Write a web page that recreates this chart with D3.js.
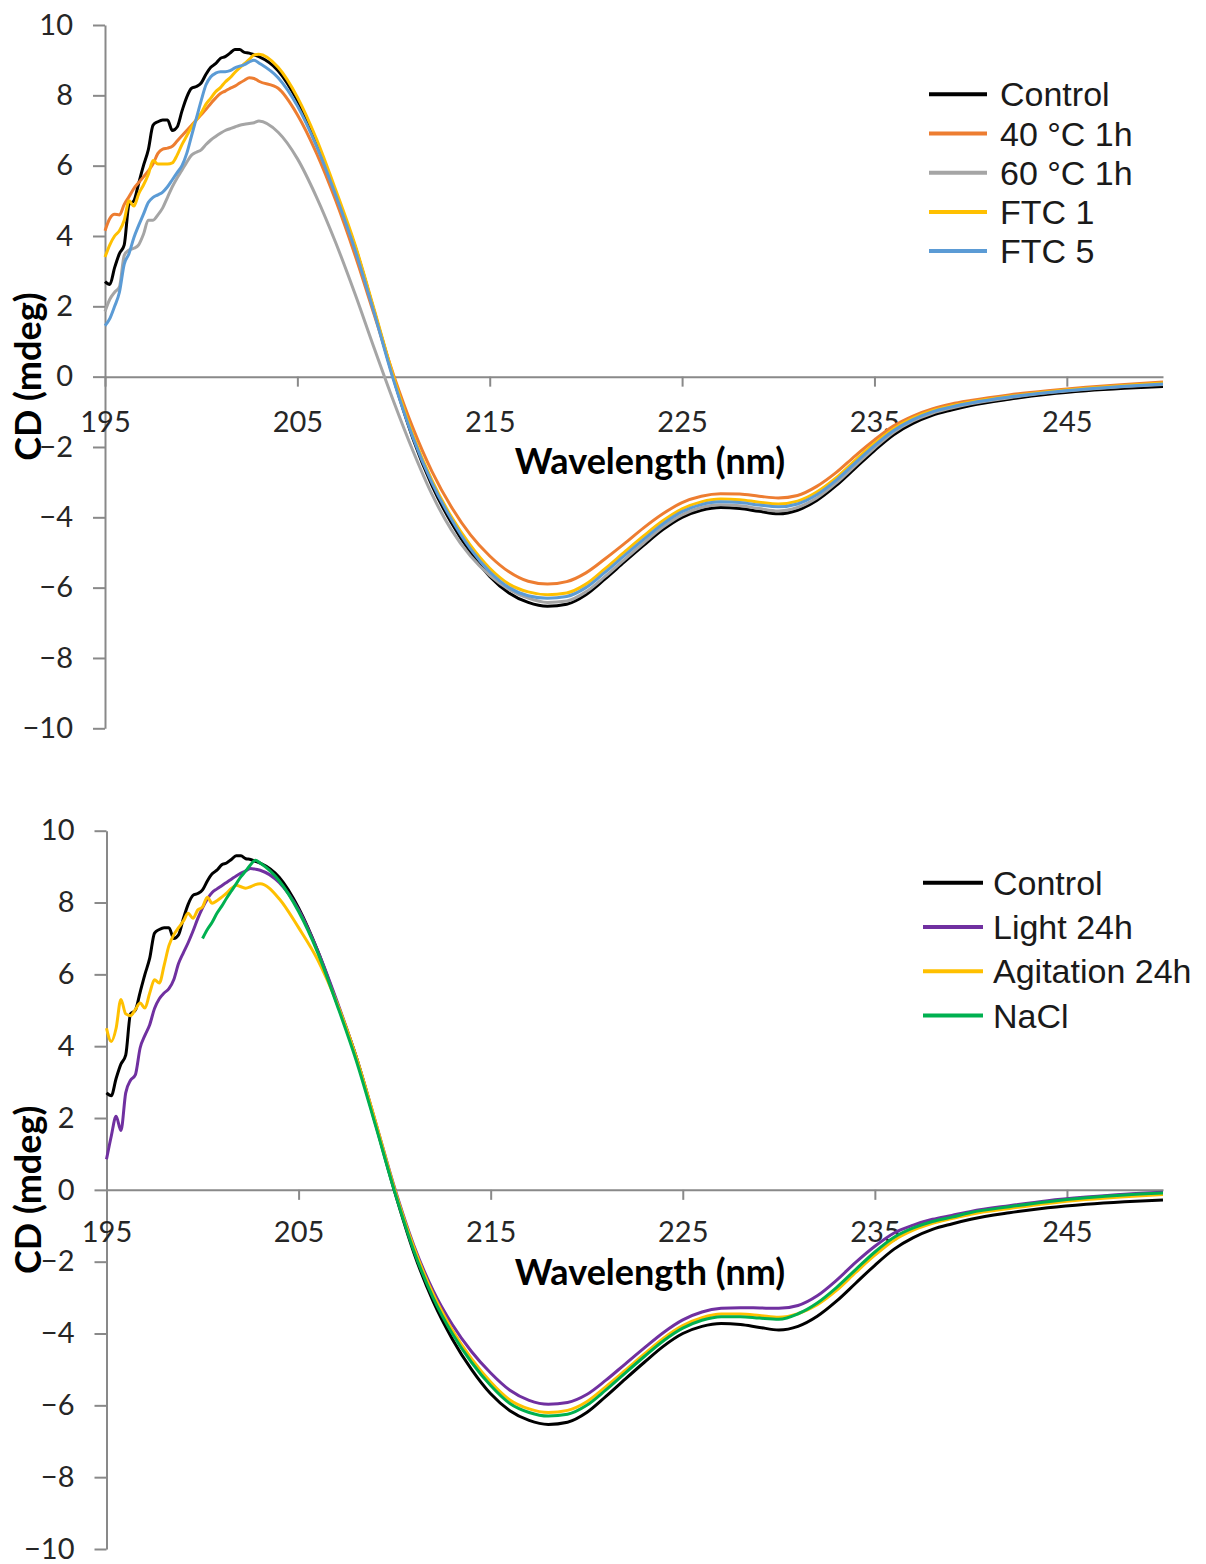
<!DOCTYPE html>
<html lang="en">
<head>
  <meta charset="UTF-8">
  <title>CD spectra</title>
  <script src="https://cdn.jsdelivr.net/npm/d3@7"></script>
  <style>
    body { margin: 0; background: #fff; }
    .axis path, .axis line { stroke: #898989; stroke-width: 2px; }
    .axis text { font: 29px Lato, sans-serif; fill: #262626; }
    .title { font: bold 36px Lato, sans-serif; fill: #000; }
    .legend text { font: 34px "Liberation Sans", Arial, sans-serif; fill: #1a1a1a; }
    .line { fill: none; stroke-width: 3px; stroke-linejoin: round; }
  </style>
</head>
<body>
  <svg width="1206" height="1564"></svg>
  <script>
    // wavelength grid (nm)
    var wavelengths = [
      195,195.25,195.5,195.75,196,196.25,196.5,196.75,197,197.25,197.5,197.75,198,198.25,198.5,198.75,199,199.25,199.5,199.75,200,200.25,200.5,200.75,201,201.25,201.5,201.75,202,202.25,202.5,202.75,203,
      204,205,206,207,208,209,210,211,212,213,214,215,216,217,218,219,220,221,222,223,224,225,226,227,228,229,230,231,232,233,234,235,236,237,238,239,240,
      242,244,246,248,250
    ];

    // CD (mdeg)
    var control = [
      2.7,2.62,3.1,3.5,3.75,4.9,5.0,5.5,6.0,6.45,7.15,7.25,7.3,7.3,7.0,7.1,7.55,7.95,8.2,8.25,8.35,8.6,8.8,8.9,9.05,9.1,9.2,9.3,9.3,9.22,9.2,9.15,9.1,
      8.7,7.85,6.65,5.2,3.7,1.85,-0.05,-1.75,-3.1,-4.15,-5.0,-5.68,-6.15,-6.42,-6.53,-6.47,-6.2,-5.75,-5.27,-4.8,-4.35,-4.0,-3.8,-3.72,-3.75,-3.83,-3.9,-3.8,-3.52,-3.1,-2.6,-2.1,-1.65,-1.33,-1.1,-0.95,-0.82,
      -0.64,-0.5,-0.4,-0.33,-0.28
    ];
    var heat40 = [
      4.15,4.5,4.62,4.6,4.9,5.12,5.35,5.52,5.68,5.85,6.05,6.35,6.47,6.5,6.55,6.7,6.85,7.0,7.15,7.3,7.45,7.6,7.77,7.92,8.05,8.12,8.2,8.26,8.35,8.43,8.5,8.48,8.4,
      8.2,7.45,6.35,5.0,3.45,1.75,0.05,-1.45,-2.7,-3.7,-4.5,-5.1,-5.55,-5.82,-5.9,-5.83,-5.58,-5.18,-4.75,-4.3,-3.9,-3.58,-3.4,-3.33,-3.34,-3.4,-3.45,-3.38,-3.12,-2.73,-2.25,-1.8,-1.4,-1.12,-0.92,-0.78,-0.68,
      -0.52,-0.4,-0.3,-0.22,-0.15
    ];
    var heat60 = [
      1.85,2.2,2.4,2.55,3.45,3.6,3.65,3.75,4.05,4.45,4.45,4.6,4.8,5.1,5.4,5.65,5.87,6.1,6.3,6.38,6.45,6.6,6.73,6.83,6.92,7.0,7.05,7.1,7.15,7.18,7.2,7.22,7.27,
      6.95,6.2,5.1,3.8,2.35,0.8,-0.7,-2.1,-3.35,-4.35,-5.1,-5.65,-6.05,-6.3,-6.42,-6.38,-6.12,-5.68,-5.2,-4.73,-4.28,-3.93,-3.72,-3.64,-3.67,-3.75,-3.82,-3.72,-3.45,-3.03,-2.53,-2.03,-1.58,-1.26,-1.04,-0.89,-0.77,
      -0.6,-0.46,-0.36,-0.28,-0.22
    ];
    var ftc1 = [
      3.4,3.75,4.0,4.15,4.45,5.0,4.85,5.2,5.45,5.75,6.15,6.05,6.05,6.05,6.08,6.3,6.6,6.85,7.1,7.3,7.5,7.75,7.92,8.1,8.22,8.38,8.5,8.65,8.78,8.9,9.02,9.15,9.17,
      8.8,7.95,6.75,5.3,3.75,1.9,0.0,-1.65,-2.95,-3.98,-4.8,-5.45,-5.9,-6.12,-6.2,-6.15,-5.9,-5.46,-4.99,-4.53,-4.1,-3.76,-3.56,-3.48,-3.5,-3.57,-3.62,-3.54,-3.28,-2.88,-2.38,-1.9,-1.48,-1.18,-0.97,-0.83,-0.72,
      -0.56,-0.43,-0.33,-0.25,-0.18
    ];
    var ftc5 = [
      1.45,1.65,2.0,2.4,3.2,3.5,3.95,4.3,4.62,4.95,5.1,5.17,5.25,5.4,5.6,5.8,6.0,6.35,6.85,7.35,7.85,8.3,8.53,8.63,8.67,8.67,8.7,8.78,8.83,8.87,8.95,9.0,8.92,
      8.5,7.7,6.55,5.15,3.6,1.8,-0.1,-1.72,-3.02,-4.05,-4.9,-5.55,-6.0,-6.23,-6.3,-6.25,-6.0,-5.56,-5.09,-4.63,-4.19,-3.84,-3.64,-3.56,-3.58,-3.65,-3.7,-3.62,-3.36,-2.95,-2.45,-1.96,-1.53,-1.22,-1.0,-0.86,-0.75,
      -0.58,-0.45,-0.35,-0.27,-0.21
    ];
    var light24 = [
      0.85,1.5,2.05,1.65,2.7,3.05,3.2,3.95,4.3,4.6,5.05,5.32,5.48,5.6,5.85,6.3,6.6,6.88,7.2,7.55,7.85,8.1,8.28,8.38,8.47,8.56,8.65,8.74,8.82,8.88,8.95,8.93,8.9,
      8.55,7.8,6.65,5.25,3.7,1.9,0.05,-1.55,-2.8,-3.75,-4.5,-5.1,-5.58,-5.86,-5.97,-5.92,-5.7,-5.3,-4.85,-4.4,-3.97,-3.62,-3.4,-3.3,-3.28,-3.29,-3.3,-3.22,-2.95,-2.52,-2.02,-1.57,-1.2,-0.98,-0.82,-0.71,-0.6,
      -0.44,-0.3,-0.2,-0.12,-0.07
    ];
    var agitation24 = [
      4.5,4.13,4.5,5.3,4.9,4.85,5.02,5.2,5.06,5.48,5.85,5.76,6.25,6.8,7.1,7.3,7.48,7.7,7.56,7.79,7.88,8.15,7.98,8.05,8.15,8.26,8.39,8.48,8.44,8.4,8.44,8.5,8.52,
      8.1,7.3,6.4,5.2,3.7,1.9,0.02,-1.6,-2.9,-3.9,-4.7,-5.35,-5.85,-6.1,-6.2,-6.14,-5.9,-5.48,-5.03,-4.57,-4.13,-3.78,-3.56,-3.46,-3.46,-3.5,-3.55,-3.45,-3.2,-2.8,-2.3,-1.82,-1.4,-1.12,-0.93,-0.8,-0.68,
      -0.52,-0.38,-0.27,-0.19,-0.13
    ];
    // NaCl was only recorded from 200 nm
    var nacl = [
      null,null,null,null,null,null,null,null,null,null,null,null,null,null,null,null,null,null,null,null,7.0,7.25,7.45,7.7,7.9,8.12,8.32,8.52,8.72,8.88,9.05,9.18,9.1,
      8.6,7.75,6.6,5.15,3.6,1.8,-0.05,-1.7,-3.0,-4.0,-4.8,-5.45,-5.95,-6.2,-6.3,-6.25,-6.0,-5.57,-5.1,-4.64,-4.2,-3.85,-3.63,-3.53,-3.53,-3.57,-3.6,-3.45,-3.15,-2.72,-2.22,-1.73,-1.32,-1.06,-0.88,-0.76,-0.63,
      -0.47,-0.33,-0.22,-0.14,-0.09
    ];

    var xTicks = [195, 205, 215, 225, 235, 245];
    var yTicks = [-10, -8, -6, -4, -2, 0, 2, 4, 6, 8, 10];

    var topSeries = [
      {name: "Control",  values: control, color: "#000000"},
      {name: "40 °C 1h", values: heat40,  color: "#ED7D31"},
      {name: "60 °C 1h", values: heat60,  color: "#A5A5A5"},
      {name: "FTC 1",    values: ftc1,    color: "#FFC000"},
      {name: "FTC 5",    values: ftc5,    color: "#5B9BD5"}
    ];
    var bottomSeries = [
      {name: "Control",        values: control,     color: "#000000"},
      {name: "Light 24h",      values: light24,     color: "#7030A0"},
      {name: "Agitation 24h",  values: agitation24, color: "#FFC000"},
      {name: "NaCl",           values: nacl,        color: "#00B050"}
    ];

    var svg = d3.select("svg");

    var panels = [
      {series: topSeries, x0: 105, x1: 1163, yTop: 25, yBot: 728.3, tickPad: 25, titleY: 474,
       legX: 929, legLen: 58, legTextX: 1000, legY: 94.3, legStep: 39.2},
      {series: bottomSeries, x0: 106.5, x1: 1163, yTop: 830.7, yBot: 1549, tickPad: 22, titleY: 1285,
       legX: 923, legLen: 60, legTextX: 993, legY: 882.7, legStep: 44.3}
    ];

    panels.forEach(function(p) {
      var x = d3.scaleLinear().domain([195, 250]).range([p.x0, p.x1]);
      var y = d3.scaleLinear().domain([-10, 10]).range([p.yBot, p.yTop]);
      var g = svg.append("g");

      // y axis
      g.append("g")
        .attr("class", "axis")
        .attr("transform", "translate(" + p.x0 + ",0)")
        .call(d3.axisLeft(y).tickValues(yTicks).tickSize(12).tickSizeOuter(0).tickPadding(20));

      // x axis sits on the zero line
      g.append("g")
        .attr("class", "axis")
        .attr("transform", "translate(0," + y(0) + ")")
        .call(d3.axisBottom(x).tickValues(xTicks).tickSize(10).tickSizeOuter(0).tickPadding(p.tickPad).tickFormat(d3.format("d")));

      g.append("text")
        .attr("class", "title")
        .attr("x", 650)
        .attr("y", p.titleY)
        .attr("text-anchor", "middle")
        .text("Wavelength (nm)");

      g.append("text")
        .attr("class", "title")
        .attr("transform", "translate(41," + y(0) + ") rotate(-90)")
        .attr("text-anchor", "middle")
        .text("CD (mdeg)");

      var line = d3.line()
        .defined(function(d) { return d[1] != null; })
        .curve(d3.curveMonotoneX)
        .x(function(d) { return x(d[0]); })
        .y(function(d) { return y(d[1]); });

      p.series.forEach(function(s, i) {
        var pts = wavelengths.map(function(w, k) { return [w, s.values[k]]; });
        g.append("path")
          .datum(pts)
          .attr("class", "line")
          .attr("d", line)
          .style("stroke", s.color);

        // legend
        var leg = g.append("g").attr("class", "legend");
        var ly = p.legY + i * p.legStep;
        leg.append("line")
          .attr("x1", p.legX).attr("x2", p.legX + p.legLen)
          .attr("y1", ly).attr("y2", ly)
          .style("stroke", s.color)
          .style("stroke-width", 4);
        leg.append("text")
          .attr("x", p.legTextX)
          .attr("y", ly + 12)
          .text(s.name);
      });
    });
  </script>
</body>
</html>
